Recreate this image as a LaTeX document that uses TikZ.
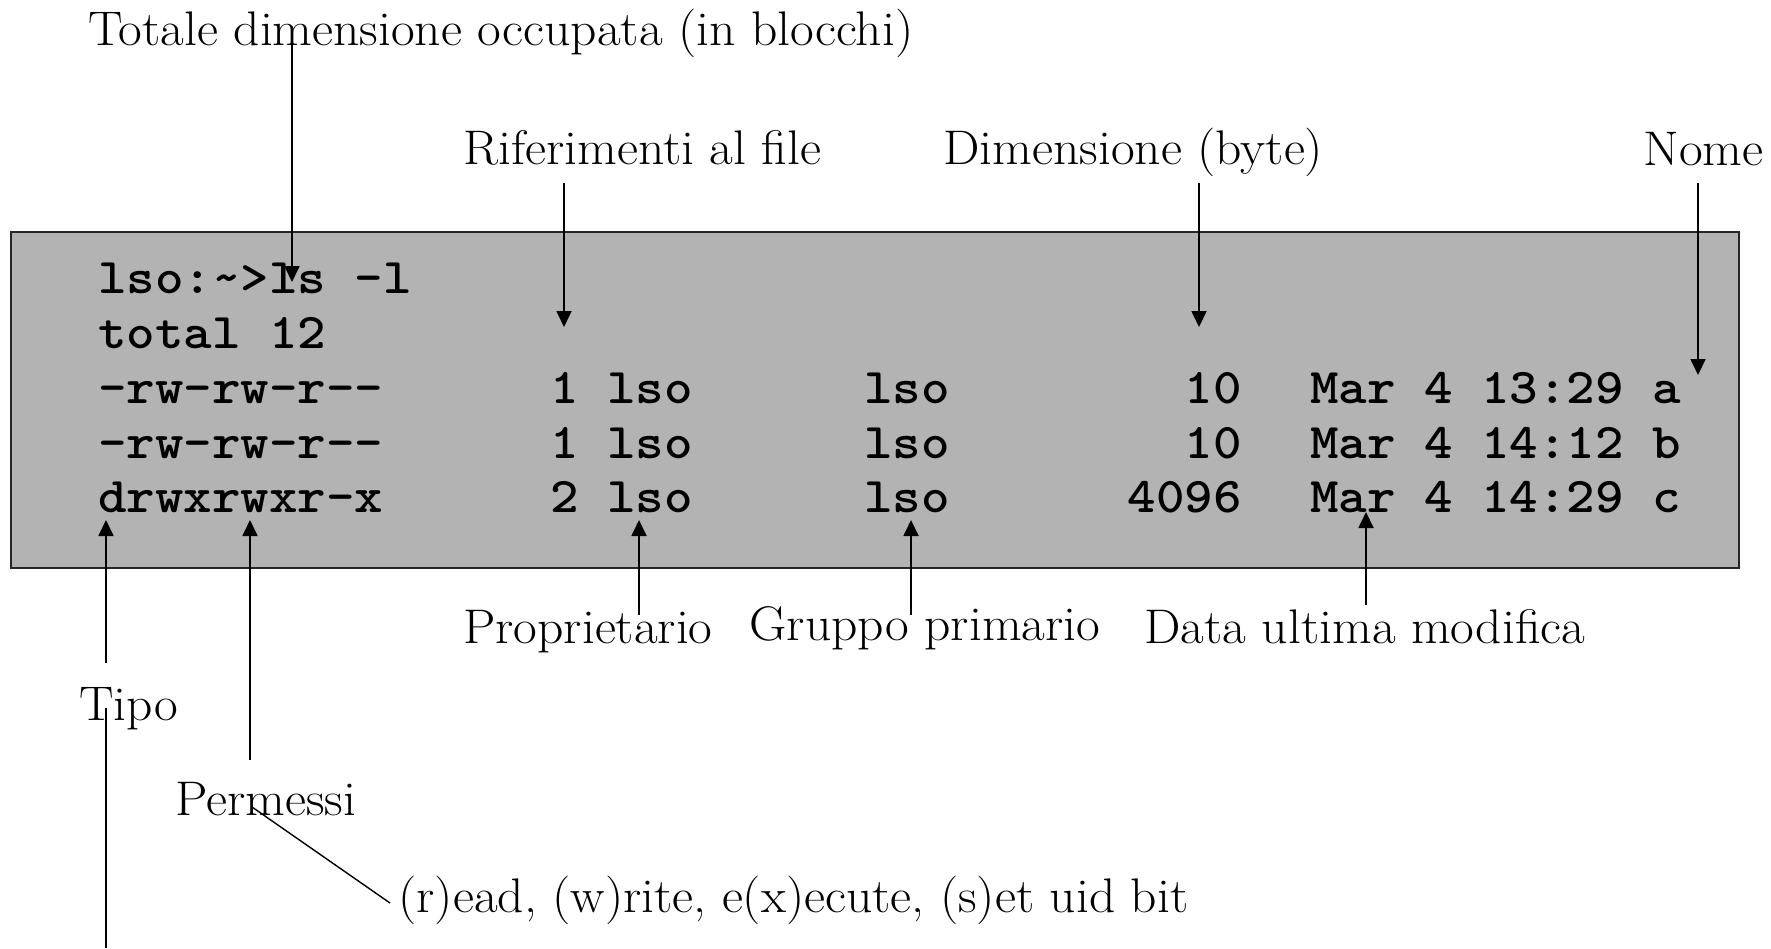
\documentclass[tikz,border=0pt]{standalone}
\usepackage{fontspec}
\setmainfont{Latin Modern Roman}[FakeStretch=1.06]
\newfontfamily\monof{Latin Modern Mono Light}[FakeStretch=1.086]
\usetikzlibrary{arrows.meta,calc}
\definecolor{boxgray}{RGB}{179,179,179}
\tikzset{
  lbl/.style={inner sep=0pt, anchor=base west, font=\fontsize{24.3}{29}\selectfont},
  code/.style={inner sep=0pt, anchor=base west, font=\monof\bfseries\fontsize{25}{30}\selectfont},
  codeR/.style={code, anchor=base east},
  arr/.style={line width=0.9pt, -{Triangle[length=8pt,width=7.5pt]}},
  plainline/.style={line width=0.7pt},
}
\begin{document}
\begin{tikzpicture}[x=0.5pt,y=-0.5pt]
\useasboundingbox (0,0) rectangle (1771,948);

% terminal box
\node[draw=black!85, line width=1pt, fill=boxgray, inner sep=0pt,
      minimum width=864pt, minimum height=168pt, anchor=north west] (box) at (10,231) {};

% code lines
\node[code] (c1) at (98,293) {lso:\textasciitilde>ls -l};
\node[code] (c2) at (98,348) {total 12};

\node[code] (p1) at (98,403) {-rw-rw-r-\kern0pt-};
\node[code] (n1) at (550,403) {1 lso};
\node[code] (g1) at (864,403) {lso};
\node[codeR] (s1) at (1242,403) {10};
\node[code] (d1) at (1310,403) {Mar 4 13:29 a};

\node[code] (p2) at (98,458) {-rw-rw-r-\kern0pt-};
\node[code] (n2) at (550,458) {1 lso};
\node[code] (g2) at (864,458) {lso};
\node[codeR] (s2) at (1242,458) {10};
\node[code] (d2) at (1310,458) {Mar 4 14:12 b};

\node[code] (p3) at (98,512) {drwxrwxr-x};
\node[code] (n3) at (550,512) {2 lso};
\node[code] (g3) at (864,512) {lso};
\node[codeR] (s3) at (1242,512) {4096};
\node[code] (d3) at (1310,512) {Mar 4 14:29 c};

% labels
\node[lbl] (title) at (88,45) {Totale dimensione occupata (in blocchi)};
\node[lbl] (rif) at (463,164) {Riferimenti al file};
\node[lbl] (dim) at (943,164) {Dimensione (byte)};
\node[lbl] (nome) at (1643,165) {Nome};
\node[lbl] (prop) at (463,643) {Proprietario};
\node[lbl] (grp) at (749,640) {Gruppo primario};
\node[lbl] (data) at (1144,643) {Data ultima modifica};
\node[lbl] (tipo) at (79,720) {Tipo};
\node[lbl] (perm) at (175,815) {Permessi};
\node[lbl] (rwx) at (398,912) {(r)ead, (w)rite, e(x)ecute, (s)et uid bit};

% arrow targets
\coordinate (tTot) at (292,282);
\coordinate (tRif) at (564,327);
\coordinate (tDim) at (1199,327);
\coordinate (tNom) at (1698,375);
\coordinate (tPro) at (639,520);
\coordinate (tGrp) at (911,520);
\coordinate (tDat) at (1366,512);
\coordinate (tTip) at (106,520);
\coordinate (tPer) at (250,520);
\coordinate (tBot) at (106,948);

% connectors
\draw[arr] ($(tTot |- title.base)+(0,-5)$) -- (tTot);
\draw[arr] ($(tRif |- rif.base)+(0,19)$) -- (tRif);
\draw[arr] ($(tDim |- dim.base)+(0,19)$) -- (tDim);
\draw[arr] ($(tNom |- nome.base)+(0,18)$) -- (tNom);
\draw[arr] ($(tPro |- prop.base)+(0,-28)$) -- (tPro);
\draw[arr] ($(tGrp |- grp.base)+(0,-25)$) -- (tGrp);
\draw[arr] ($(tDat |- data.base)+(0,-38)$) -- (tDat);
\draw[arr] ($(tTip |- tipo.base)+(0,-57)$) -- (tTip);
\draw[arr] ($(tPer |- perm.base)+(0,-55)$) -- (tPer);
\draw[plainline] ($(tBot |- tipo.base)+(0,-12)$) -- (tBot);
\draw[plainline] ($(perm.base west)+(77,-8)$) -- ($(rwx.base west)+(-8,-9)$);
\end{tikzpicture}
\end{document}
